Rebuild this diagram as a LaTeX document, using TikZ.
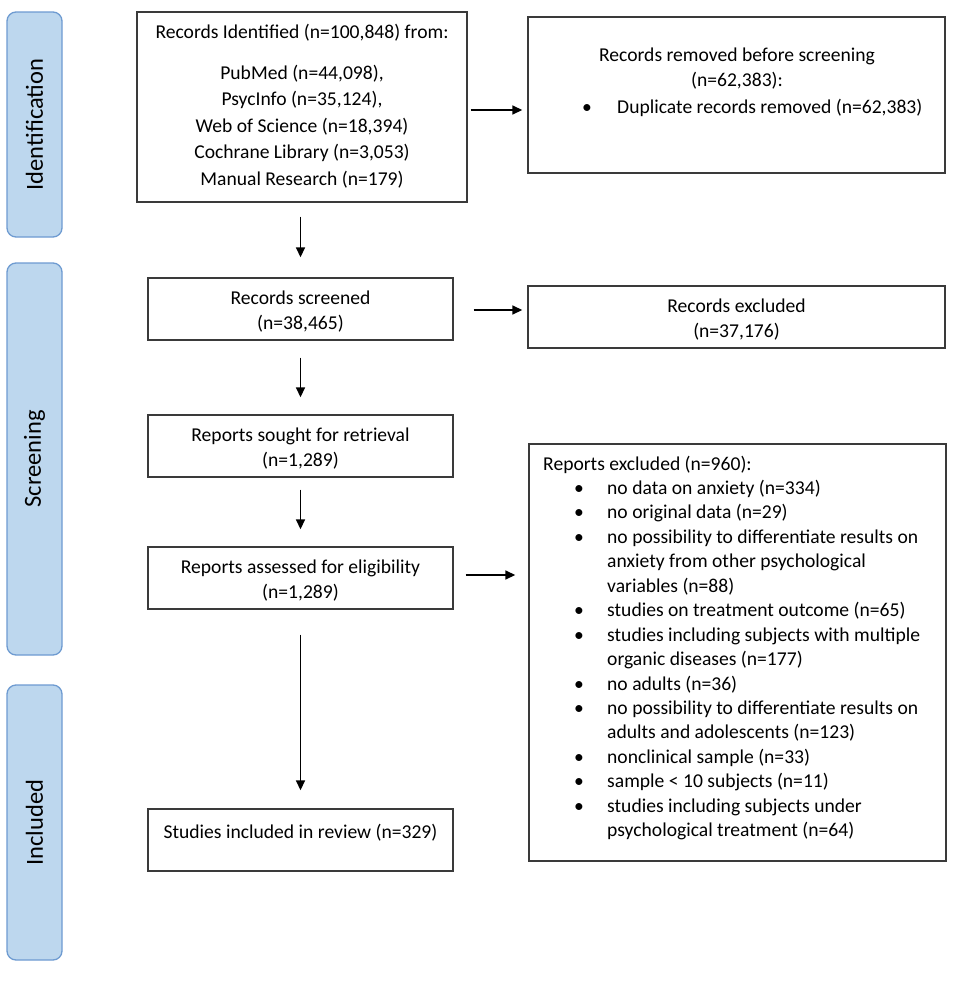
\documentclass[tikz,border=0pt]{standalone}
\usepackage{fontspec}
\setmainfont{Carlito}
\usetikzlibrary{arrows.meta}
\definecolor{bandfill}{HTML}{BDD7EE}
\definecolor{banddraw}{HTML}{6E9BD1}
\definecolor{boxdraw}{HTML}{3A3A3A}
\begin{document}
\begin{tikzpicture}[x=1pt,y=-1pt,
  box/.style={draw=boxdraw, line width=1.4pt, inner sep=0pt, rectangle},
  band/.style={draw=banddraw, fill=bandfill, line width=1.3pt, rounded corners=9pt,
    inner sep=0pt, minimum height=55pt, rotate=90, font=\fontsize{24.5}{28}\selectfont},
  txt/.style={inner sep=0pt, font=\fontsize{19.6}{24}\selectfont},
  arr/.style={line width=1.6pt, draw=black, -{Triangle[length=10pt,width=9pt]}}]
\useasboundingbox (0,0) rectangle (957,983);
\fill[white] (0,0) rectangle (957,983);

% phase bands
\node[band, minimum width=225pt] (bident) at (34.5,124.5) {Identification};
\node[band, minimum width=392pt] (bscreen) at (34.5,459) {Screening};
\node[band, minimum width=275pt] (bincl) at (34.5,822.5) {Included};

% boxes
\node[box, minimum width=330pt, minimum height=190pt] (ident) at (302,107) {};
\node[box, minimum width=417pt, minimum height=156pt] (removed) at (736.5,95) {};
\node[box, minimum width=305pt, minimum height=62pt] (screened) at (300.5,309) {};
\node[box, minimum width=417pt, minimum height=62pt] (rexcl) at (736.5,317) {};
\node[box, minimum width=305pt, minimum height=62pt] (sought) at (300.5,446) {};
\node[box, minimum width=305pt, minimum height=62pt] (assessed) at (300.5,578) {};
\node[box, minimum width=417pt, minimum height=417pt] (excl) at (737.5,652.5) {};
\node[box, minimum width=305pt, minimum height=62pt] (included) at (300.5,840) {};

% arrows
\draw[arr, shorten <=14pt, shorten >=20pt] (screened.north |- ident.south) -- (screened.north);
\draw[arr, shorten <=17pt, shorten >=17pt] (screened.south) -- (sought.north);
\draw[arr, shorten <=12pt, shorten >=17pt] (sought.south) -- (assessed.north);
\draw[arr, shorten <=25pt, shorten >=18pt] (assessed.south) -- (included.north);
\draw[arr, shorten <=3pt, shorten >=5pt] ([yshift=-3pt]ident.east) -- ([yshift=-3pt]ident.east -| removed.west);
\draw[arr, shorten <=20pt, shorten >=5pt] ([yshift=-1pt]screened.east) -- ([yshift=-1pt]screened.east -| rexcl.west);
\draw[arr, shorten <=12pt, shorten >=13pt] ([yshift=3pt]assessed.east) -- ([yshift=3pt]assessed.east -| excl.west);

% identification text
\node[txt, anchor=base] (i0) at (302,38) {Records Identified (n=100,848) from:};
\node[txt, anchor=base] (i1) at (302,79) {PubMed (n=44,098),};
\node[txt, anchor=base] (i2) at (302,105.5) {PsycInfo (n=35,124),};
\node[txt, anchor=base] (i3) at (302,132) {Web of Science (n=18,394)};
\node[txt, anchor=base] (i4) at (302,158.5) {Cochrane Library (n=3,053)};
\node[txt, anchor=base] (i5) at (302,185) {Manual Research (n=179)};

\node[txt, anchor=base] (r0) at (737,61) {Records removed before screening};
\node[txt, anchor=base] (r1) at (737,86) {(n=62,383):};
\node[txt, anchor=base] (rb) at (587,113) {•};
\node[txt, anchor=base west] (r2) at (617,113) {Duplicate records removed (n=62,383)};

\node[txt, anchor=base] (s0) at (300.5,304) {Records screened};
\node[txt, anchor=base] (s1) at (300.5,329) {(n=38,465)};
\node[txt, anchor=base] (x0) at (736.5,312) {Records excluded};
\node[txt, anchor=base] (x1) at (736.5,337) {(n=37,176)};
\node[txt, anchor=base] (g0) at (300.5,441) {Reports sought for retrieval};
\node[txt, anchor=base] (g1) at (300.5,466) {(n=1,289)};
\node[txt, anchor=base] (a0) at (300.5,573) {Reports assessed for eligibility};
\node[txt, anchor=base] (a1) at (300.5,598) {(n=1,289)};
\node[txt, anchor=base] (n0) at (300.5,838) {Studies included in review (n=329)};

% reports excluded list
\node[txt, anchor=base west] (e0) at (543,470) {Reports excluded (n=960):};
\foreach \i/\b/\t in {
  1/•/no data on anxiety (n=334),
  2/•/no original data (n=29),
  3/•/no possibility to differentiate results on,
  4//anxiety from other psychological,
  5//variables (n=88),
  6/•/studies on treatment outcome (n=65),
  7/•/studies including subjects with multiple,
  8//organic diseases (n=177),
  9/•/no adults (n=36),
  10/•/no possibility to differentiate results on,
  11//adults and adolescents (n=123),
  12/•/nonclinical sample (n=33),
  13/•/sample < 10 subjects (n=11),
  14/•/studies including subjects under,
  15//psychological treatment (n=64)}{
  \node[txt, anchor=base] (eb\i) at (579,470+24.45*\i) {\b};
  \node[txt, anchor=base west] (e\i) at (607,470+24.45*\i) {\t};
}
\end{tikzpicture}
\end{document}
